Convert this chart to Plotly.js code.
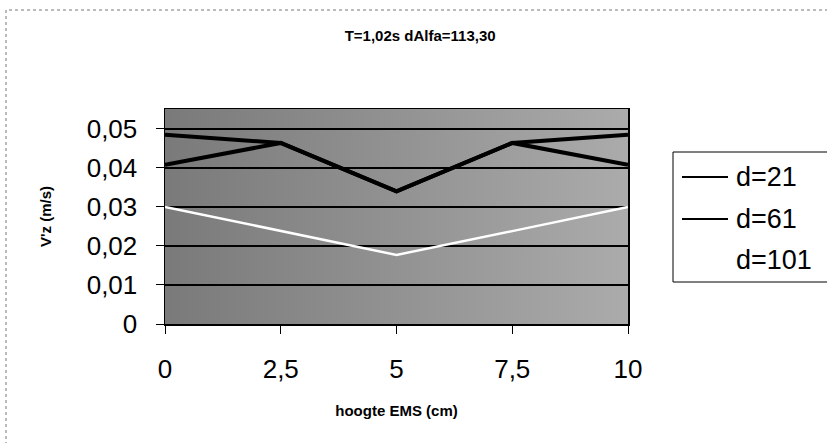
<!DOCTYPE html>
<html>
<head>
<meta charset="utf-8">
<script src="https://cdn.plot.ly/plotly-3.0.1.min.js"></script>
<style>
html,body{margin:0;padding:0;background:#fff;}
#chart{width:827px;height:443px;}
</style>
</head>
<body>
<div id="chart"></div>
<script>
// Data
const hoogte = [0, 2.5, 5, 7.5, 10];
const d21 = [0.0485, 0.0464, 0.0340, 0.0464, 0.0485];
const d61 = [0.0408, 0.0464, 0.0340, 0.0464, 0.0408];
const d101 = [0.0300, 0.0238, 0.0177, 0.0238, 0.0300];
const seriesNames = ['d=21', 'd=61', 'd=101'];
const seriesColors = ['#000000', '#000000', '#ffffff'];

const bgSvg = '<svg xmlns="http://www.w3.org/2000/svg" width="100" height="100" preserveAspectRatio="none">' +
  '<defs><linearGradient id="g" x1="0" y1="0" x2="1" y2="0">' +
  '<stop offset="0" stop-color="#7a7a7a"/><stop offset="0.5" stop-color="#929292"/><stop offset="1" stop-color="#ababab"/>' +
  '</linearGradient></defs><rect width="100" height="100" fill="url(#g)"/></svg>';
const bgUri = 'data:image/svg+xml;base64,' + btoa(bgSvg);

const font = 'Liberation Sans, Arial, sans-serif';
const boldNarrow = 'Liberation Sans Narrow, Liberation Sans, Arial, sans-serif';

// plot area in pixels: left 165, right 628, top 109, bottom 324
const PL = 165, PR = 628, PT = 109, PB = 324;
const px = v => (v - PL) / (PR - PL);
const py = v => (PB - v) / (PB - PT);

const widths = [4, 4, 2.5];
const ys = [d21, d61, d101];
const traces = ys.map((y, i) => ({
  x: hoogte, y: y, name: seriesNames[i], mode: 'lines',
  line: {color: seriesColors[i], width: widths[i]}, showlegend: false
}));

// manual legend (thin sample lines like the reference)
const legendRows = [177, 219, 260];
const shapes = [
  {type: 'rect', xref: 'paper', yref: 'paper',
   x0: px(6), x1: px(840), y0: py(460), y1: py(10),
   line: {color: '#777', width: 1, dash: 'dot'}, fillcolor: 'rgba(0,0,0,0)', layer: 'below'},
  {type: 'rect', xref: 'paper', yref: 'paper',
   x0: px(673), x1: px(840), y0: py(282), y1: py(152),
   line: {color: '#000', width: 1}, fillcolor: '#fff'}
];
const annotations = [];
seriesNames.forEach((n, i) => {
  shapes.push({type: 'line', xref: 'paper', yref: 'paper',
    x0: px(682), x1: px(728), y0: py(legendRows[i]), y1: py(legendRows[i]),
    line: {color: seriesColors[i], width: 2}});
  annotations.push({text: n, xref: 'paper', yref: 'paper', x: px(734), y: py(legendRows[i]),
    xanchor: 'left', yanchor: 'middle', showarrow: false,
    font: {family: font, size: 27, color: '#000'}});
});

const layout = {
  width: 827, height: 443,
  margin: {l: PL, r: 827 - PR, t: PT, b: 443 - PB, autoexpand: false},
  paper_bgcolor: '#fff',
  plot_bgcolor: '#949494',
  separators: ',.',
  font: {family: font, color: '#000'},
  showlegend: false,
  title: {
    text: '<b>T=1,02s dAlfa=113,30</b>',
    font: {family: boldNarrow, size: 15, color: '#000'},
    x: 0.551, xref: 'paper', xanchor: 'center',
    y: 1 - 36/443, yref: 'container', yanchor: 'middle'
  },
  xaxis: {
    range: [0, 10], tickvals: hoogte, showgrid: false, zeroline: false,
    ticks: 'outside', ticklen: 8, tickcolor: '#000', tickwidth: 1,
    showline: true, linecolor: '#000', linewidth: 1.5, mirror: true,
    tickfont: {family: font, size: 26, color: '#000'},
    ticklabelstandoff: 13,
    title: {text: '<b>hoogte EMS (cm)</b>', font: {family: boldNarrow, size: 15, color: '#000'}, standoff: 23}
  },
  yaxis: {
    range: [0, 0.0551], dtick: 0.01, tick0: 0,
    showgrid: true, gridcolor: '#000', gridwidth: 1.5, zeroline: false,
    ticks: 'outside', ticklen: 8, tickcolor: '#000', tickwidth: 1,
    showline: true, linecolor: '#000', linewidth: 1.5, mirror: true,
    tickfont: {family: font, size: 26, color: '#000'},
    ticklabelstandoff: 13,
    title: {text: "<b>V'z (m/s)</b>", font: {family: boldNarrow, size: 15, color: '#000'}, standoff: 31}
  },
  images: [{
    source: bgUri, xref: 'paper', yref: 'paper', x: 0, y: 1, sizex: 1, sizey: 1,
    sizing: 'stretch', layer: 'below', xanchor: 'left', yanchor: 'top'
  }],
  shapes: shapes,
  annotations: annotations
};

Plotly.newPlot('chart', traces, layout, {displayModeBar: false, staticPlot: true});
</script>
</body>
</html>
